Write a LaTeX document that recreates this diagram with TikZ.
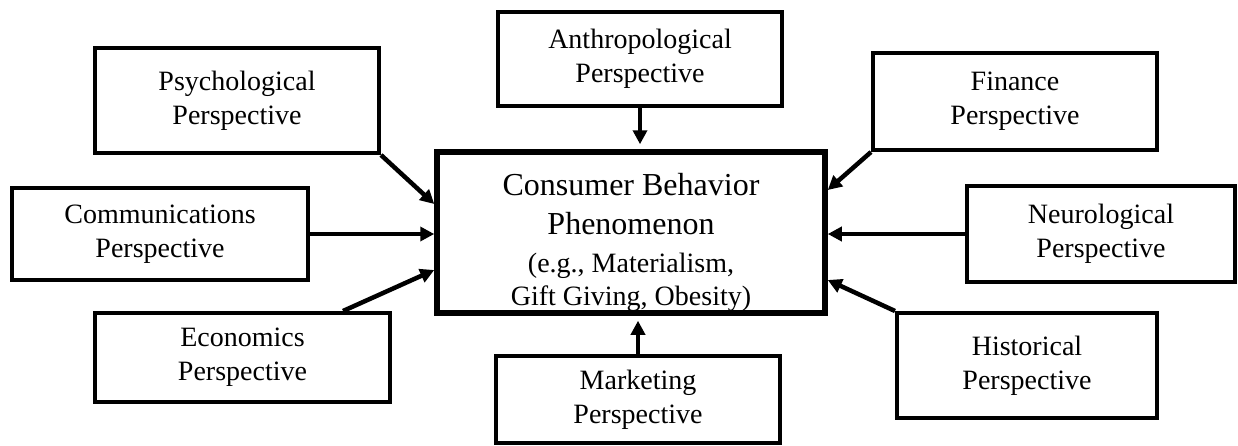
\documentclass[tikz,border=0pt]{standalone}
\usepackage{fontspec}
\setmainfont{Liberation Serif}
\usetikzlibrary{arrows.meta}

\tikzset{
  persp/.style={draw, line width=4pt, inner sep=0pt, align=center,
    font=\fontsize{28}{34}\selectfont},
  core/.style={draw, line width=5.5pt, inner sep=0pt,
    minimum width=388pt, minimum height=161pt},
  coretext/.style={inner sep=0pt, align=center,
    font=\fontsize{28}{35}\selectfont},
  link/.style={line width=4.5pt, -{Triangle[length=14pt,width=14pt]}}
}

\begin{document}
\begin{tikzpicture}[x=1pt,y=-1pt]
  \useasboundingbox (0,0) rectangle (1238,445);

  \node[core] (cbp) at (631,232.5) {};
  \node[coretext] (cbptext) at ([yshift=-10pt]cbp.center) {%
    {\fontsize{32}{38}\selectfont Consumer Behavior}\\[4pt]
    {\fontsize{32}{38}\selectfont Phenomenon}\\[3pt]
    (e.g., Materialism,\\[-2pt]
    Gift Giving, Obesity)};

  \node[persp, minimum width=284pt, minimum height=105pt] (psych) at (237,100.5) {Psychological\\Perspective};
  \node[persp, minimum width=296pt, minimum height=92pt] (comm) at (160,234) {Communications\\Perspective};
  \node[persp, minimum width=295pt, minimum height=89pt] (econ) at (242.5,357.5) {Economics\\Perspective};
  \node[persp, minimum width=284pt, minimum height=94pt] (anthro) at (640,59) {Anthropological\\Perspective};
  \node[persp, minimum width=284pt, minimum height=87pt] (market) at (638,399.5) {Marketing\\Perspective};
  \node[persp, minimum width=284pt, minimum height=97pt] (fin) at (1015,101.5) {Finance\\Perspective};
  \node[persp, minimum width=268pt, minimum height=96pt] (neuro) at (1101,234) {Neurological\\Perspective};
  \node[persp, minimum width=260pt, minimum height=105pt] (hist) at (1027,365.5) {Historical\\Perspective};

  \draw[link] (psych.south east) -- ([yshift=28.5pt]cbp.west);
  \draw[link] (comm.east) -- (comm.east -| cbp.west);
  \draw[link] ([xshift=100.5pt]econ.north) -- ([yshift=-37.5pt]cbp.west);
  \draw[link, shorten >=5pt] (anthro.south) -- (anthro.south |- cbp.north);
  \draw[link, shorten >=5pt] (market.north) -- (market.north |- cbp.south);
  \draw[link] (fin.south west) -- ([yshift=42.5pt]cbp.east);
  \draw[link] (neuro.west) -- (neuro.west -| cbp.east);
  \draw[link] (hist.north west) -- ([yshift=-47.5pt]cbp.east);
\end{tikzpicture}
\end{document}
